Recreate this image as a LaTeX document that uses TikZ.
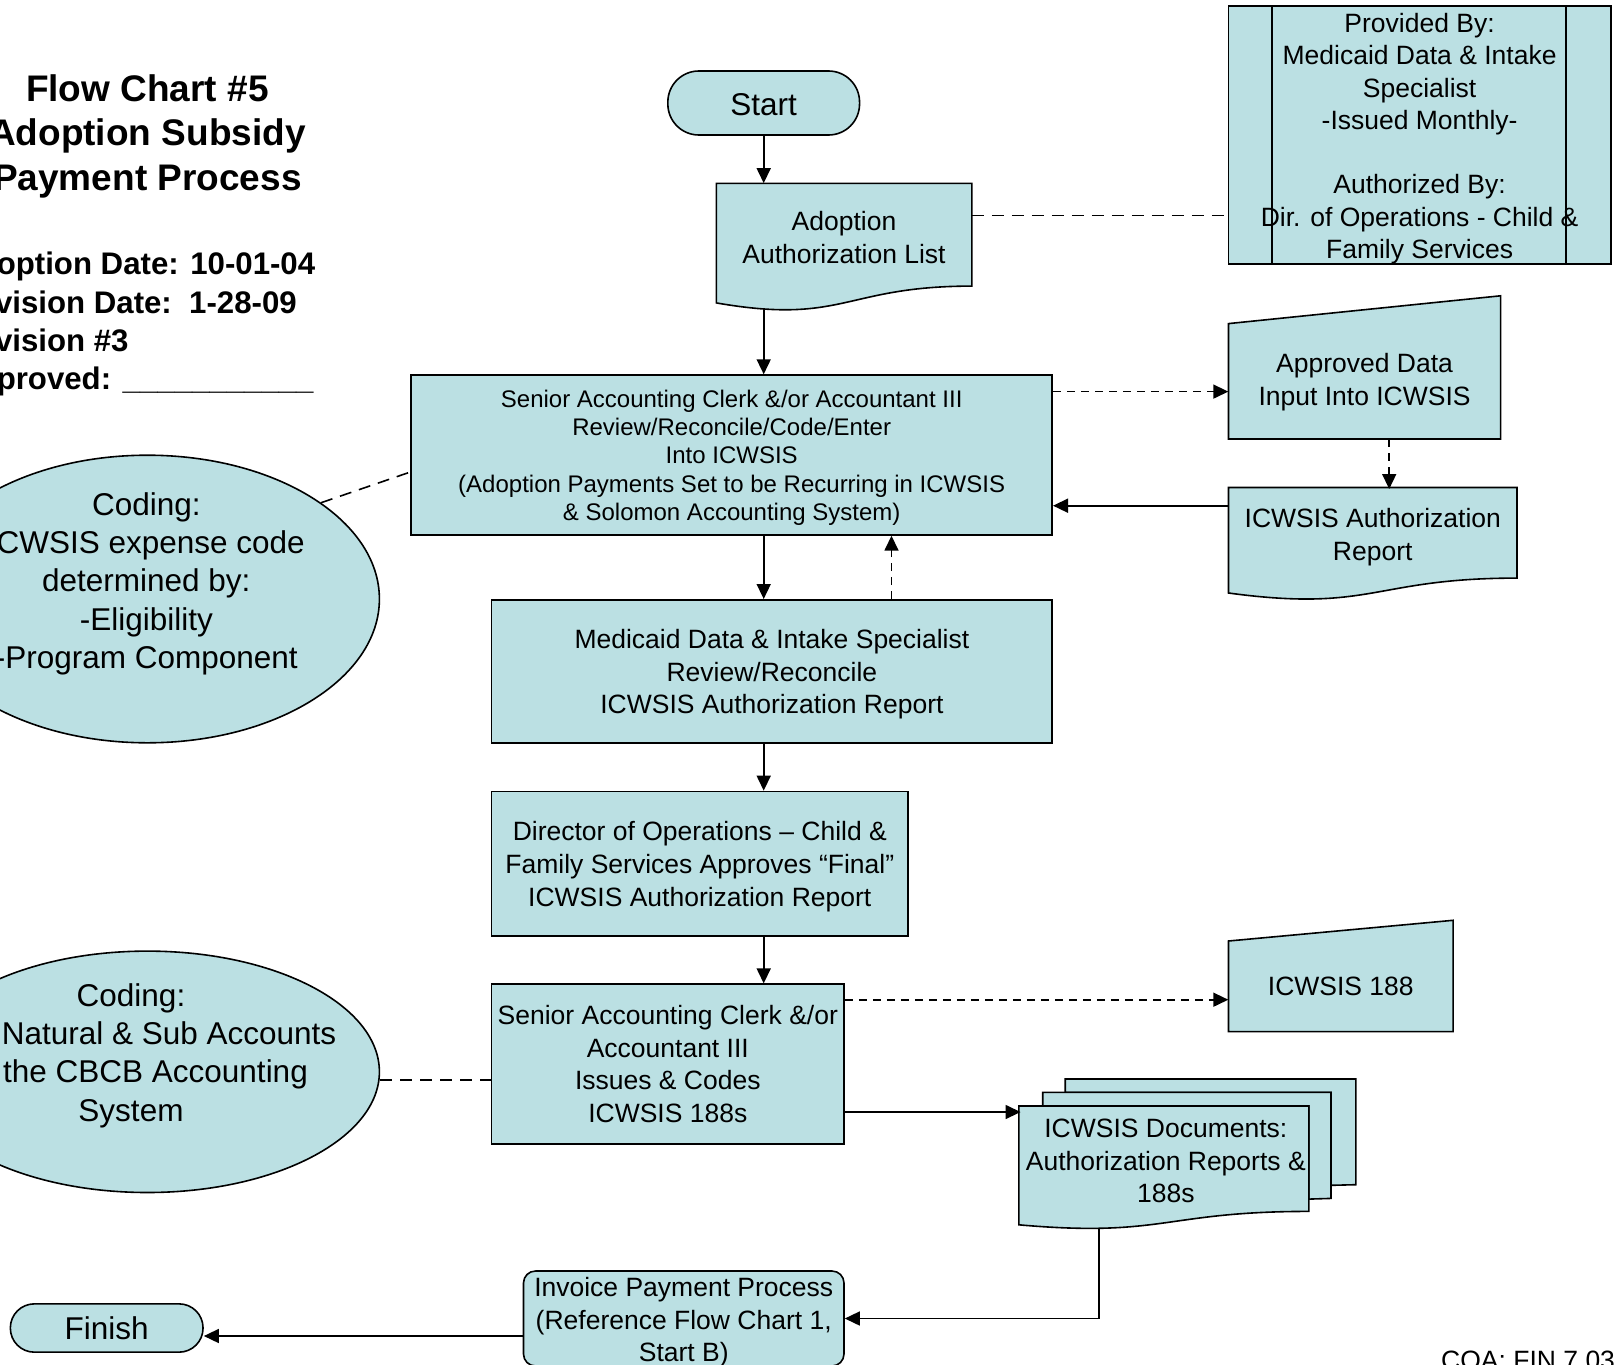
\documentclass[tikz,border=0pt]{standalone}
\usepackage{fontspec}
\setmainfont{Liberation Sans}
\usetikzlibrary{arrows.meta,shapes.geometric,calc}
\definecolor{boxfill}{RGB}{187,224,227}
\newcommand\fntBody{\fontsize{26.5}{32.6}\selectfont}
\newcommand\fntSmall{\fontsize{24}{28.3}\selectfont}
\newcommand\fntLarge{\fontsize{31.5}{38.3}\selectfont}
\newcommand\fntTitle{\bfseries\fontsize{37}{44.4}\selectfont}
\newcommand\fntDate{\bfseries\fontsize{31.2}{38.4}\selectfont}
\newcommand\tstrut[1]{\rule{0pt}{#1}}
\begin{document}
\begin{tikzpicture}[x=1pt,y=-1pt,
  shp/.style={draw=black, line width=1.6pt, fill=boxfill},
  box/.style={shp, rectangle, inner sep=0pt, align=center, font=\fntBody},
  txt/.style={inner sep=0pt, align=center, font=\fntBody},
  area/.style={rectangle, inner sep=0pt, align=center, font=\fntBody},
  arr/.style={line width=1.6pt, -{Triangle[length=15pt,width=14pt]}},
  darr/.style={arr, dash pattern=on 8pt off 6pt},
  dline/.style={line width=1.6pt, dash pattern=on 12pt off 8pt},
]
\useasboundingbox (0,0) rectangle (1614,1365);
\clip (0,0) rectangle (1614,1365);

% ---- custom shapes (drawn first) ----
% Adoption Authorization List (document)
\path[shp] (716.3,183.4) -- (971.8,183.4) -- (971.8,286.1)
  .. controls (844,286.1) and (844,325.2) .. (716.3,302.9) -- cycle;
% ICWSIS Authorization Report (document)
\path[shp] (1228.5,487.5) -- (1517,487.5) -- (1517,578.1)
  .. controls (1372.75,578.1) and (1372.75,612.6) .. (1228.5,593.0) -- cycle;
% Approved Data (manual input)
\path[shp] (1228.5,323.6) -- (1500.6,295.8) -- (1500.6,439) -- (1228.5,439) -- cycle;
% ICWSIS 188 (manual input)
\path[shp] (1228.5,941) -- (1453.1,920.3) -- (1453.1,1031.6) -- (1228.5,1031.6) -- cycle;
% ICWSIS Documents (multi-document)
\path[shp] (1065.2,1092.3) -- (1065.2,1079) -- (1355.8,1079) -- (1355.8,1184.7)
  -- (1331.0,1185.3) -- (1331.0,1092.3) -- cycle;
\path[shp] (1042.7,1106) -- (1042.7,1092.3) -- (1331.0,1092.3) -- (1331.0,1198.4)
  -- (1308.9,1199.1) -- (1308.9,1106) -- cycle;
\path[shp] (1018.8,1106) -- (1308.9,1106) -- (1308.9,1211.4)
  .. controls (1163.9,1211.4) and (1163.9,1237.7) .. (1018.8,1224.8) -- cycle;

% ---- title block ----
\node[inner sep=0pt, align=center, font=\fntTitle] (title) at (147.4,133)
  {\tstrut{33pt}Flow Chart \#5\\Adoption Subsidy\\Payment Process};
\node[inner sep=0pt, align=left, font=\fntDate, anchor=west] (dates) at (-45,322.6)
  {\tstrut{25.8pt}Adoption Date: 10-01-04\\Revision Date:\ \ 1-28-09\\Revision \#3\\Approved: \_\_\_\_\_\_\_\_\_\_\_};

% ---- nodes ----
\node[shp, rounded corners=31pt, minimum width=191.7pt, minimum height=64pt,
  inner sep=0pt, font=\fntLarge] (start) at (763.7,103) {\tstrut{25.5pt}Start};

\node[area, minimum width=255.5pt, minimum height=102.7pt] (adl) at (844,234.7)
  {\tstrut{24.4pt}Adoption\\Authorization List};

\node[box, minimum width=382.2pt, minimum height=256.6pt,
  font=\fontsize{26.5}{32.3}\selectfont] (prov) at (1419.6,135)
  {\tstrut{26.4pt}Provided By:\\Medicaid Data \& Intake\\Specialist\\-Issued Monthly-\\[32.3pt]Authorized By:\\Dir. of Operations - Child \&\\Family Services};
\draw[line width=1.6pt] ([xshift=44.2pt]prov.north west) -- ([xshift=44.2pt]prov.south west);
\draw[line width=1.6pt] ([xshift=-45.7pt]prov.north east) -- ([xshift=-45.7pt]prov.south east);

\node[box, minimum width=641pt, minimum height=159.8pt, font=\fntSmall] (big1) at (731.7,455)
  {\tstrut{22.5pt}Senior Accounting Clerk \&/or Accountant III\\Review/Reconcile/Code/Enter\\Into ICWSIS\\(Adoption Payments Set to be Recurring in ICWSIS\\\& Solomon Accounting System)};

\node[area, minimum width=272.1pt, minimum height=116.4pt] (appr) at (1364.55,380.8)
  {\tstrut{22.4pt}Approved Data\\Input Into ICWSIS};

\node[area, minimum width=288.5pt, minimum height=90.6pt] (rep) at (1372.75,534.5)
  {\tstrut{24.4pt}ICWSIS Authorization\\Report};

\node[box, minimum width=560.6pt, minimum height=143.2pt] (med) at (771.9,671.4)
  {\tstrut{25.4pt}Medicaid Data \& Intake Specialist\\Review/Reconcile\\ICWSIS Authorization Report};

\node[box, minimum width=416.4pt, minimum height=144.3pt] (dir) at (699.8,863.6)
  {\tstrut{25.4pt}Director of Operations – Child \&\\Family Services Approves “Final”\\ICWSIS Authorization Report};

\node[box, minimum width=352.4pt, minimum height=159.8pt] (sr2) at (667.8,1064.1)
  {Senior Accounting Clerk \&/or\\Accountant III\\Issues \& Codes\\ICWSIS 188s};

\node[area, minimum width=224.6pt, minimum height=90.6pt] (i188) at (1340.8,986.3)
  {ICWSIS 188};

\node[area, minimum width=290.1pt, minimum height=111pt] (docs) at (1165.8,1161)
  {ICWSIS Documents:\\Authorization Reports \&\\188s};

\node[box, rounded corners=12pt, minimum width=320.5pt, minimum height=95pt] (inv) at (683.75,1318.5) {};
\node[txt] (invt) at (683.75,1322.2)
  {Invoice Payment Process\\(Reference Flow Chart 1,\\Start B)};

\node[shp, rounded corners=24pt, minimum width=192.7pt, minimum height=48.3pt,
  inner sep=0pt, font=\fntLarge] (fin) at (106.7,1328) {Finish};

\node[shp, ellipse, minimum width=464pt, minimum height=287.6pt, inner sep=0pt] (e1) at (147.4,599) {};
\node[txt, font=\fntLarge] (e1t) at (146.3,581.5)
  {\tstrut{27pt}Coding:\\ICWSIS expense code\\determined by:\\-Eligibility\\-Program Component};

\node[shp, ellipse, minimum width=464pt, minimum height=241.4pt, inner sep=0pt] (e2) at (147.4,1071.8) {};
\node[txt, font=\fntLarge] (e2t) at (131,1053.5)
  {\tstrut{27pt}Coding:\\\hspace*{76pt}Natural \& Sub Accounts\\\hspace*{49pt}the CBCB Accounting\\System};

\node[inner sep=0pt, font=\fntBody, anchor=base west] (coa) at (1441,1369) {COA: FIN 7.03};

% ---- connectors ----
\draw[arr] (start.south) -- (start.south |- adl.north);
\coordinate (c2) at ([yshift=19.3pt]adl.east);
\draw[dline] (c2) -- (c2 -| prov.west);
\coordinate (adlw) at (763.7,309);
\draw[arr] (adlw) -- (adlw |- big1.north);
\coordinate (c4) at ([yshift=63.4pt]big1.east);
\draw[darr] (c4) -- (c4 -| appr.west);
\coordinate (c5) at ([xshift=24.65pt]appr.south);
\draw[darr] (c5) -- (c5 |- rep.north);
\coordinate (c6) at ([yshift=28.8pt]rep.west);
\draw[arr] (c6 -| rep.west) -- (c6 -| big1.east);
\draw[dline] (e1.29.5) -- ([yshift=-17pt]big1.west);
\draw[arr] (start |- big1.south) -- (start |- med.north);
\coordinate (c9) at ([xshift=119.6pt]med.north);
\draw[darr] (c9) -- (c9 |- big1.south);
\draw[arr] (start |- med.south) -- (start |- dir.north);
\draw[arr] (start |- dir.south) -- (start |- sr2.north);
\coordinate (c12) at ([yshift=64.4pt]sr2.east);
\draw[darr] (c12) -- (c12 -| i188.west);
\coordinate (c13) at ([yshift=-47.9pt]sr2.east);
\draw[arr] (c13) -- (c13 -| docs.west);
\coordinate (c14) at ([yshift=-8.2pt]e2.east);
\draw[dline] (c14) -- (c14 -| sr2.west);
\coordinate (c15) at (1099,1228);
\draw[arr] (c15) |- (inv.east);
\coordinate (c16) at ([yshift=-17.5pt]inv.west);
\draw[arr] (c16) -- (c16 -| fin.east);
\end{tikzpicture}
\end{document}
